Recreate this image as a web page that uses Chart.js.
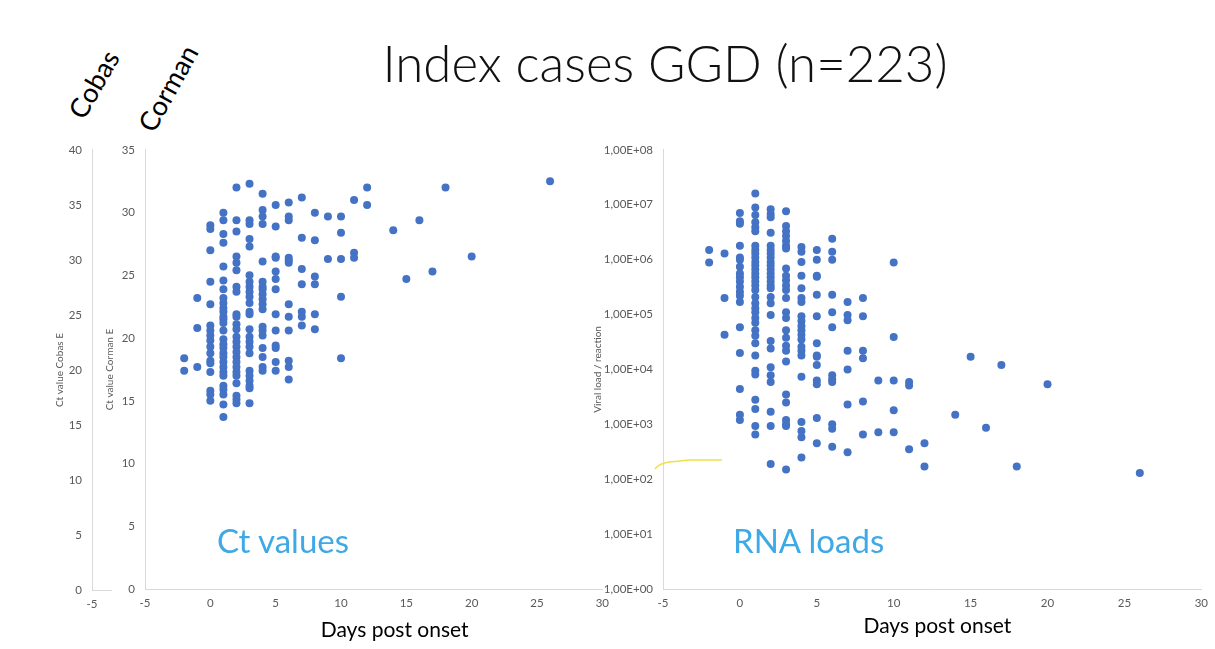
<!DOCTYPE html>
<html>
<head>
<meta charset="utf-8">
<script src="https://cdn.jsdelivr.net/npm/chart.js@4.4.1/dist/chart.umd.min.js"></script>
<style>
  body { margin: 0; background: #fff; width: 1215px; height: 649px; position: relative; overflow: hidden; font-family: Lato, "Open Sans", sans-serif; }
  .box { position: absolute; }
  #title { position: absolute; left: 0; width: 1330px; top: 37px; text-align: center; font-size: 51px; line-height: 1; font-weight: 300; color: #111; }
  .rot { position: absolute; font-size: 27px; line-height: 1; color: #000; transform-origin: 0 24px; white-space: nowrap; }
  .tag { position: absolute; top: 524px; font-size: 33px; line-height: 1; color: #3fa9e6; }
</style>
</head>
<body>
<div id="title">Index cases GGD (n=223)</div>
<div class="rot" style="left:84px;top:97px;transform:rotate(-60deg)">Cobas</div>
<div class="rot" style="left:154px;top:110px;transform:rotate(-61deg)">Corman</div>

<div class="box" style="left:50px;top:133px"><canvas id="cobas" width="62" height="510"></canvas></div>
<div class="box" style="left:96px;top:133px"><canvas id="corman" width="520" height="510"></canvas></div>
<div class="box" style="left:590px;top:133px"><canvas id="rna" width="625" height="510"></canvas></div>

<div class="tag" style="left:217px">Ct values</div>
<div class="tag" style="left:733px">RNA loads</div>

<svg class="box" style="left:0;top:0" width="1215" height="649">
  <path d="M655 469 C660 462 668 462 690 460 L722 460" fill="none" stroke="#f1df4c" stroke-width="1.5"/>
</svg>

<script>
// days post onset (one entry per column of dots)
var ctDays = [-2, -1, 0, 1, 2, 3, 4, 5, 6, 7, 8, 9, 10, 11, 12, 14, 15, 16, 17, 18, 20, 26];
// Ct value Corman E, per day
var ctValues = [
  [18.4, 17.4],
  [23.2, 20.8, 17.7],
  [29.0, 28.7, 27.0, 24.5, 22.7, 21.0, 20.6, 20.2, 19.8, 19.3, 18.8, 18.2, 18.0, 17.3, 15.8, 15.5, 15.0],
  [30.0, 29.4, 28.3, 27.6, 25.7, 24.6, 23.9, 23.2, 22.8, 22.4, 22.1, 21.7, 21.5, 21.2, 20.6, 19.9, 19.5, 19.2, 18.8, 18.5, 18.1, 17.7, 17.3, 17.0, 16.2, 15.9, 15.5, 14.7, 13.7],
  [32.0, 29.4, 28.5, 26.5, 26.0, 25.4, 24.1, 23.7, 21.9, 21.7, 21.1, 20.7, 20.1, 19.7, 19.3, 18.9, 18.5, 18.1, 17.7, 17.3, 17.0, 16.4, 15.4, 15.1, 14.8],
  [32.3, 29.4, 29.1, 27.9, 27.3, 25.0, 24.5, 24.1, 23.7, 23.3, 22.8, 22.1, 21.9, 20.7, 20.1, 19.7, 19.3, 18.8, 17.4, 17.0, 16.6, 16.2, 16.0, 14.8],
  [31.5, 30.2, 29.7, 29.1, 26.1, 24.5, 24.1, 23.9, 23.5, 23.1, 22.7, 22.3, 20.9, 20.6, 20.2, 19.2, 18.5, 17.7, 17.4],
  [30.6, 28.9, 26.5, 26.4, 25.3, 24.7, 23.9, 21.9, 20.6, 19.4, 19.2, 18.1, 17.4],
  [30.8, 29.7, 29.4, 26.4, 26.2, 26.0, 22.7, 21.7, 20.6, 18.2, 17.7, 16.7],
  [31.2, 28.0, 25.5, 24.3, 22.1, 21.7, 21.0],
  [30.0, 27.8, 24.9, 24.3, 21.9, 20.7],
  [29.7, 26.3],
  [29.7, 28.4, 26.3, 23.3, 18.4],
  [31.0, 26.8, 26.4],
  [32.0, 30.6],
  [28.6],
  [24.7],
  [29.4],
  [25.3],
  [32.0],
  [26.5],
  [32.5]
];

var loadDays = [-2, -1, 0, 1, 2, 3, 4, 5, 6, 7, 8, 9, 10, 11, 12, 14, 15, 16, 17, 18, 20, 26];
// viral load / reaction, per day
var loadValues = [
  [1.5e6, 8.9e5],
  [1.3e6, 2.0e5, 4.3e4],
  [7.1e6, 5.0e6, 4.5e6, 1.8e6, 1.1e6, 1.0e6, 7.4e5, 5.6e5, 4.8e5, 4.0e5, 3.2e5, 2.6e5, 2.2e5, 1.7e5, 5.9e4, 2.0e4, 4.4e3, 1.5e3, 1.2e3],
  [1.6e7, 8.9e6, 6.5e6, 4.8e6, 3.9e6, 3.3e6, 1.8e6, 1.5e6, 1.3e6, 1.1e6, 9.1e5, 7.8e5, 6.6e5, 5.6e5, 4.8e5, 4.0e5, 3.4e5, 2.8e5, 2.1e5, 1.6e5, 1.3e5, 1.1e5, 8.7e4, 7.1e4, 5.2e4, 4.1e4, 3.0e4, 1.8e4, 9.5e3, 8.1e3, 2.8e3, 1.9e3, 9.3e2, 6.5e2],
  [8.3e6, 6.8e6, 5.9e6, 3.1e6, 1.8e6, 1.5e6, 1.3e6, 1.1e6, 9.1e5, 7.8e5, 6.6e5, 5.6e5, 4.8e5, 4.0e5, 3.4e5, 3.0e5, 2.1e5, 1.6e5, 9.8e4, 3.3e4, 2.4e4, 1.1e4, 7.8e3, 5.9e3, 1.7e3, 9.3e2, 1.9e2],
  [7.6e6, 4.1e6, 3.3e6, 2.7e6, 2.2e6, 1.8e6, 1.6e6, 6.9e5, 5.1e5, 4.2e5, 3.4e5, 2.8e5, 2.0e5, 1.1e5, 8.7e4, 5.2e4, 3.8e4, 2.7e4, 2.2e4, 1.4e4, 3.5e3, 2.5e3, 1.2e3, 1.0e3, 9.3e2, 1.5e2],
  [1.7e6, 1.4e6, 9.1e5, 5.1e5, 3.0e5, 2.0e5, 1.7e5, 9.3e4, 7.6e4, 6.2e4, 5.2e4, 4.3e4, 3.5e4, 2.6e4, 2.2e4, 1.8e4, 7.4e3, 1.1e3, 7.6e2, 5.8e2, 2.5e2],
  [1.5e6, 1.0e6, 5.1e5, 4.9e5, 2.3e5, 9.3e4, 3.0e4, 1.8e4, 1.7e4, 1.2e4, 6.3e3, 5.4e3, 1.3e3, 4.5e2],
  [2.4e6, 1.4e6, 1.0e6, 2.3e5, 1.1e5, 5.9e4, 7.8e3, 6.6e3, 5.9e3, 1.0e3, 8.3e2, 3.9e2],
  [1.7e5, 9.8e4, 7.9e4, 2.2e4, 1.0e4, 2.3e3, 3.1e2],
  [2.0e5, 9.3e4, 2.2e4, 1.6e4, 2.6e3, 6.5e2],
  [6.3e3, 7.2e2],
  [8.9e5, 3.9e4, 6.3e3, 1.8e3, 7.2e2],
  [5.9e3, 5.1e3, 3.5e2],
  [4.5e2, 1.7e2],
  [1.5e3],
  [1.7e4],
  [8.7e2],
  [1.2e4],
  [1.7e2],
  [5.4e3],
  [1.3e2]
];

var cobasTicks = [0, 5, 10, 15, 20, 25, 30, 35, 40];
var logTicks = [1, 10, 100, 1e3, 1e4, 1e5, 1e6, 1e7, 1e8];

var dotColor = '#4472c4';
var axisGray = '#d9d9d9';
var tickGray = '#595959';
var tickFont = { family: 'Lato', size: 11.5 };
var yTitleFont = { family: 'Lato', size: 10 };
var axisTitleFont = { family: 'Lato', size: 21 };

function toPoints(days, values) {
  var pts = [];
  days.forEach(function (d, i) {
    values[i].forEach(function (v) { pts.push({ x: d, y: v }); });
  });
  return pts;
}

function xAxis(title, height, bottomPad) {
  return {
    type: 'linear', min: -5, max: 30,
    ticks: { stepSize: 5, color: tickGray, font: tickFont, padding: 7, maxRotation: 0 },
    grid: { display: false, drawTicks: false },
    border: { color: axisGray },
    title: { display: !!title, text: title, color: '#000', font: axisTitleFont, padding: { top: 0, bottom: bottomPad } },
    afterFit: function (s) { s.height = height; }
  };
}

var baseOptions = {
  responsive: false,
  animation: false,
  plugins: { legend: { display: false }, tooltip: { enabled: false } }
};

Chart.defaults.font.family = 'Lato';

// outer Cobas axis (a separate thin chart, as in the slide)
new Chart(document.getElementById('cobas'), {
  type: 'scatter',
  data: { datasets: [{ data: [] }] },
  options: Object.assign({}, baseOptions, {
    layout: { padding: { top: 12, right: 0, bottom: 0, left: 0 } },
    scales: {
      x: Object.assign(xAxis('', 53, 0), {
        max: -3.6,
        afterBuildTicks: function (s) { s.ticks = [{ value: -5 }]; }
      }),
      y: {
        min: 0, max: 40,
        afterBuildTicks: function (s) { s.ticks = cobasTicks.map(function (v) { return { value: v }; }); },
        ticks: { color: tickGray, font: tickFont, padding: 10 },
        grid: { display: false, drawTicks: false },
        border: { color: axisGray },
        title: { display: true, text: 'Ct value Cobas E', color: tickGray, font: yTitleFont, padding: { top: 4, bottom: 0 } },
        afterFit: function (s) { s.width = 42; }
      }
    }
  })
});

new Chart(document.getElementById('corman'), {
  type: 'scatter',
  data: {
    datasets: [{
      data: toPoints(ctDays, ctValues),
      backgroundColor: dotColor, borderWidth: 0, pointRadius: 4
    }]
  },
  options: Object.assign({}, baseOptions, {
    layout: { padding: { top: 10, right: 9, bottom: 0, left: 0 } },
    scales: {
      // em spaces nudge the title right, where the slide has it
      x: xAxis('\u2003\u2003\u2002Days post onset', 54, 0),
      y: {
        min: 0, max: 35,
        ticks: { stepSize: 5, color: tickGray, font: tickFont, padding: 10 },
        grid: { display: false, drawTicks: false },
        border: { color: axisGray },
        title: { display: true, text: 'Ct value Corman E', color: tickGray, font: yTitleFont, padding: { top: 8, bottom: 0 } },
        afterFit: function (s) { s.width = 49; }
      }
    }
  })
});

new Chart(document.getElementById('rna'), {
  type: 'scatter',
  data: {
    datasets: [{
      data: toPoints(loadDays, loadValues),
      backgroundColor: dotColor, borderWidth: 0, pointRadius: 4
    }]
  },
  options: Object.assign({}, baseOptions, {
    layout: { padding: { top: 12, right: 6, bottom: 0, left: 0 } },
    scales: {
      x: xAxis('\u2002Days post onset', 54, 4),
      y: {
        type: 'logarithmic', min: 1, max: 1e8,
        afterBuildTicks: function (s) { s.ticks = logTicks.map(function (v) { return { value: v }; }); },
        ticks: {
          color: tickGray, font: tickFont, padding: 10,
          callback: function (v) {
            var e = Math.round(Math.log10(v));
            return '1,00E+' + (e < 10 ? '0' : '') + e;
          }
        },
        grid: { display: false, drawTicks: false },
        border: { color: axisGray },
        title: { display: true, text: 'Viral load / reaction', color: tickGray, font: yTitleFont, padding: { top: 2, bottom: 0 } },
        afterFit: function (s) { s.width = 73; }
      }
    }
  })
});
</script>
</body>
</html>
